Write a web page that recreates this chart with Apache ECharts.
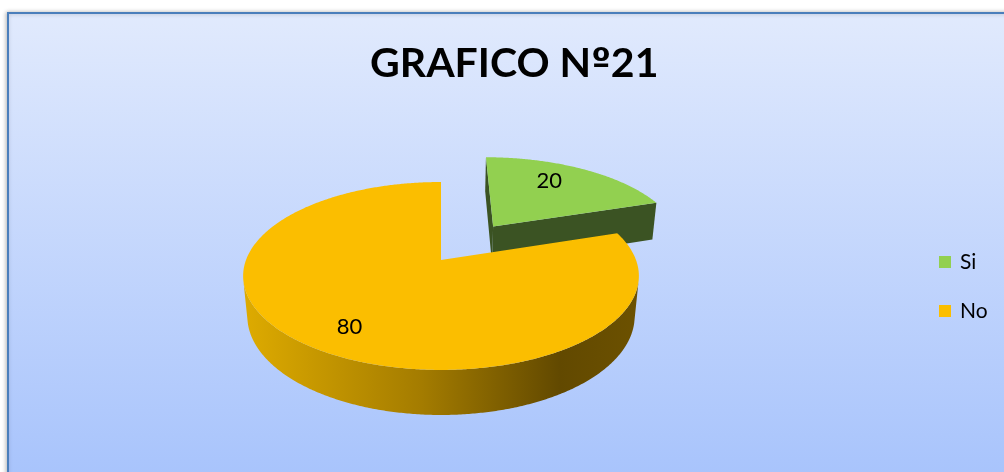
<!DOCTYPE html>
<html><head><meta charset="utf-8">
<script src="https://cdn.jsdelivr.net/npm/echarts@6/dist/echarts.min.js"></script>
<style>html,body{margin:0;padding:0;background:#fff;overflow:hidden;} #c{width:1004px;height:472px;}</style>
</head><body><div id="c"></div>
<script>
const titleParts = ['GRAFICO N', 'º', '21'];
const categories = ['Si', 'No'];
const values = [20, 80];
const sliceColors = ['#92d050', '#fbbe00'];

const total = values.reduce((a, b) => a + b, 0);
const CX = 441, CY = 260, F = 1014, DIST = 5.2, PHI = 27.9 * Math.PI / 180, THICK = 0.236;
const explode = [0.485, 0];
const labelR = [0.6, 0.72];
const labelDy = [-9, 8];
const cph = Math.cos(PHI), sph = Math.sin(PHI);
const camZ = -DIST * cph;
function proj(x, y, z) {
  const Yv = y * cph + z * sph, Zv = z * cph - y * sph + DIST;
  return [CX + F * x / Zv, CY - F * Yv / Zv];
}
const sideFills = [
  '#3b5323',
  new echarts.graphic.LinearGradient(0, 0, 1, 0, [
    { offset: 0, color: '#deab00' },
    { offset: 0.45, color: '#a47c00' },
    { offset: 0.8, color: '#624900' },
    { offset: 1, color: '#6c5100' }
  ])
];
const faceFills = ['#3b5323', '#8a6800'];

function makeRender(i) {
  return function (params, api) {
    const v = api.value(0);
    let before = 0;
    for (let k = 0; k < i; k++) before += values[k];
    const a0 = Math.PI / 2 - before / total * 2 * Math.PI;
    const a1 = a0 - v / total * 2 * Math.PI;
    const mid = (a0 + a1) / 2;
    const ox = explode[i] * Math.cos(mid), oz = explode[i] * Math.sin(mid);
    const N = Math.max(12, Math.ceil(Math.abs(a0 - a1) / (Math.PI / 360)));
    const top = [proj(ox, 0, oz)];
    const sTop = [], sBot = [];
    for (let j = 0; j <= N; j++) {
      const t = a0 + (a1 - a0) * j / N;
      const x = ox + Math.cos(t), z = oz + Math.sin(t);
      top.push(proj(x, 0, z));
      const vis = -1 - ox * Math.cos(t) + Math.sin(t) * (camZ - oz);
      if (vis > 0) { sTop.push(proj(x, 0, z)); sBot.push(proj(x, -THICK, z)); }
    }
    const children = [];
    function face(a) {
      const x = ox + Math.cos(a), z = oz + Math.sin(a);
      return [proj(ox, 0, oz), proj(x, 0, z), proj(x, -THICK, z), proj(ox, -THICK, oz)];
    }
    const d0 = ox * Math.sin(a0) + Math.cos(a0) * (camZ - oz);
    const d1 = -ox * Math.sin(a1) - Math.cos(a1) * (camZ - oz);
    if (d0 > 0.01) children.push({ type: 'polygon', shape: { points: face(a0) }, style: { fill: faceFills[i] } });
    if (d1 > 0.01) children.push({ type: 'polygon', shape: { points: face(a1) }, style: { fill: faceFills[i] } });
    if (sTop.length > 1) {
      children.push({ type: 'polygon', shape: { points: sTop.concat(sBot.slice().reverse()) }, style: { fill: sideFills[i] } });
    }
    children.push({ type: 'polygon', shape: { points: top }, style: { fill: sliceColors[i] } });
    const r = labelR[i];
    const lp = proj(ox + r * Math.cos(mid), 0, oz + r * Math.sin(mid));
    children.push({ type: 'text', x: lp[0], y: lp[1] + labelDy[i], style: { text: String(v), fill: '#000', fontSize: 22, fontFamily: 'Lato', align: 'center', verticalAlign: 'middle' } });
    return { type: 'group', children: children };
  };
}

const chart = echarts.init(document.getElementById('c'), null, { renderer: 'canvas' });
chart.setOption({
  animation: false,
  backgroundColor: '#ffffff',
  graphic: [{
    type: 'rect', z: -100, silent: true,
    shape: { x: 8, y: 13, width: 1100, height: 470 },
    style: {
      fill: new echarts.graphic.LinearGradient(0, 0, 0, 1, [
        { offset: 0, color: '#e1eafd' }, { offset: 1, color: '#a7c3fc' }
      ]),
      stroke: '#4a7ebb', lineWidth: 2,
      shadowColor: 'rgba(0,0,0,0.25)', shadowBlur: 4, shadowOffsetX: -1
    }
  }],
  title: {
    text: '{t|' + titleParts[0] + '}{o|' + titleParts[1] + '}{t|' + titleParts[2] + '}',
    left: 370, top: 43, padding: 0,
    textStyle: {
      rich: {
        t: { fontFamily: 'Lato', fontWeight: 'bold', fontSize: 41, color: '#000' },
        o: { fontFamily: 'DejaVu Sans', fontWeight: 'bold', fontSize: 35, color: '#000' }
      }
    }
  },
  legend: {
    orient: 'vertical', left: 934, top: 245, itemWidth: 12, itemHeight: 12, itemGap: 25,
    icon: 'rect', data: categories,
    textStyle: { fontSize: 21, fontFamily: 'Lato', color: '#000', lineHeight: 24, padding: [0, 0, 0, 4] }
  },
  series: categories.map((name, i) => ({
    type: 'custom', name: name, coordinateSystem: 'none', silent: true,
    z: 2 + i, data: [values[i]], itemStyle: { color: sliceColors[i] },
    renderItem: makeRender(i)
  }))
});
</script>
</body></html>
